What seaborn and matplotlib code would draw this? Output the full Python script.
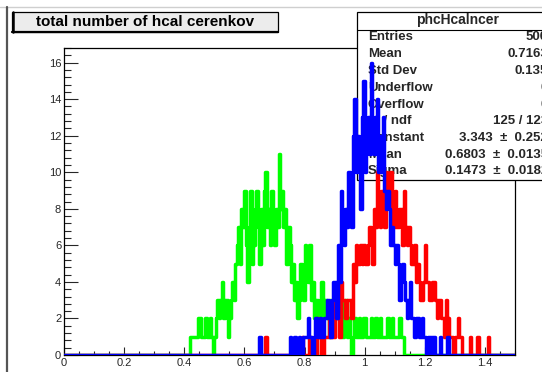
import numpy as np
import pandas as pd
import matplotlib
matplotlib.use("Agg")
import matplotlib.pyplot as plt
import seaborn as sns
from matplotlib.patches import Rectangle
from matplotlib.lines import Line2D
from matplotlib.ticker import MultipleLocator, FuncFormatter

# ---------------- data (bin width 0.005 over 0 .. 1.5) ----------------
bin_width = 0.005
x_min, x_max = 0.0, 1.5

green_start = 0.42
green_counts = [1, 1, 1, 1, 1, 2, 2, 1, 1, 1, 2, 1, 1, 2, 1, 0, 1, 2, 3, 2,
                3, 4, 2, 3, 3, 1, 2, 3, 4, 3, 5, 6, 7, 5, 8, 7, 9, 6, 4, 7,
                9, 5, 6, 8, 9, 7, 5, 8, 6, 9, 10, 7, 8, 6, 9, 7, 6, 8, 7, 11,
                8, 9, 7, 8, 5, 7, 6, 4, 5, 3, 4, 2, 3, 5, 4, 3, 6, 5, 4, 6,
                3, 4, 2, 3, 3, 2, 3, 4, 2, 3, 3, 2, 1, 3, 3, 2, 3, 3, 2, 3,
                3, 1, 2, 3, 1, 2, 1, 0, 1, 2, 1, 1, 2, 1, 1, 2, 2, 1, 1, 1,
                2, 1, 1, 2, 1, 1, 2, 1, 1, 1, 1, 2, 1, 1, 2, 1, 1, 1, 1, 2,
                1, 1]

red_start = 0.67
red_counts = [1, 0, 0, 0, 0, 0, 0, 0, 0, 0, 0, 0, 0, 0, 0, 0, 0, 0, 0, 0,
              0, 0, 0, 0, 1, 0, 0, 0, 0, 1, 0, 0, 1, 0, 2, 1, 1, 0, 0, 1,
              1, 1, 2, 1, 1, 1, 3, 2, 2, 1, 4, 3, 3, 2, 3, 3, 3, 2, 5, 4,
              6, 5, 5, 6, 5, 6, 5, 5, 6, 7, 6, 5, 8, 7, 10, 8, 7, 9, 9, 7,
              10, 9, 8, 10, 8, 7, 9, 7, 7, 8, 8, 6, 9, 7, 6, 7, 6, 5, 5, 6,
              4, 5, 4, 3, 3, 4, 6, 4, 4, 3, 3, 4, 4, 3, 2, 3, 3, 2, 2, 1,
              3, 2, 1, 1, 1, 0, 1, 1, 2, 1, 1, 0, 0, 0, 0, 0, 1, 0, 0, 0,
              0, 1, 0, 0, 0, 0, 0, 0, 1, 0]

blue_start = 0.65
blue_counts = [1, 0, 0, 0, 0, 0, 0, 0, 0, 0, 0, 0, 0, 0, 0, 0, 0, 0, 0, 0,
               1, 0, 0, 1, 0, 0, 1, 0, 0, 1, 1, 1, 2, 1, 1, 0, 1, 2, 1, 1,
               2, 1, 1, 2, 2, 3, 2, 1, 3, 4, 4, 2, 6, 4, 9, 7, 6, 8, 7, 10,
               9, 7, 12, 14, 10, 12, 11, 8, 13, 15, 10, 12, 13, 11, 16, 12, 11, 13, 14, 10,
               10, 12, 13, 9, 8, 9, 8, 6, 7, 6, 5, 6, 5, 3, 4, 5, 4, 3, 2, 3,
               4, 2, 2, 1, 2, 2, 1, 1, 2, 1, 1, 0, 1, 1, 0, 1, 1, 0, 0, 0,
               1, 0, 0, 0, 0, 1]

title_text = "total number of hcal cerenkov"
stats_name = "phcHcalncer"
stats_labels = ["Entries", "Mean", "Std Dev", "Underflow", "Overflow",
                "χ² / ndf", "Constant", "Mean", "Sigma"]
stats_values = ["500", "0.7163", "0.135", "0", "0",
                "125 / 123", "3.343 ± 0.252", "0.6803 ± 0.0135", "0.1473 ± 0.0182"]

x_major = [0, 0.2, 0.4, 0.6, 0.8, 1.0, 1.2, 1.4]
y_major = [0, 2, 4, 6, 8, 10, 12, 14, 16]

# ---------------- helpers ----------------
n_bins = int(round((x_max - x_min) / bin_width))
edges = np.linspace(x_min, x_max, n_bins + 1)
centers = 0.5 * (edges[:-1] + edges[1:])


def full_hist(start, counts):
    arr = np.zeros(n_bins)
    i0 = int(round((start - x_min) / bin_width))
    arr[i0:i0 + len(counts)] = counts
    return arr


frames = []
for name, start, counts in [("green", green_start, green_counts),
                            ("red", red_start, red_counts),
                            ("blue", blue_start, blue_counts)]:
    frames.append(pd.DataFrame({"x": centers, "w": full_hist(start, counts), "set": name}))
df = pd.concat(frames, ignore_index=True)

# ---------------- style ----------------
sns.set_style("white")
plt.rcParams["font.family"] = ["Liberation Sans", "DejaVu Sans"]

W, H = 542, 372
fig = plt.figure(figsize=(W / 100, H / 100), dpi=100)
fig.patch.set_facecolor("white")


def fx(px):
    return px / W


def fy(py):
    return 1 - py / H


ax = fig.add_axes([fx(64), 17 / H, (515 - 64) / W, (355 - 48) / H])
ax.set_facecolor("white")

colors = {"green": "#00ff00", "red": "#ff0000", "blue": "#0000ff"}
for name in ["green", "red", "blue"]:
    sub = df[df["set"] == name]
    sns.histplot(data=sub, x="x", weights="w", binwidth=bin_width,
                 binrange=(x_min, x_max), element="step",
                 fill=False, color=colors[name], linewidth=2.5, ax=ax, zorder=3)

ax.set_xlim(x_min, x_max)
ax.set_ylim(0, 16.8)
ax.set_xlabel("")
ax.set_ylabel("")
ax.set_xticks(x_major)
ax.set_yticks(y_major)
ax.xaxis.set_minor_locator(MultipleLocator(0.05))
ax.yaxis.set_minor_locator(MultipleLocator(0.4))
ax.xaxis.set_major_formatter(FuncFormatter(lambda v, p: "%g" % v))
ax.yaxis.set_major_formatter(FuncFormatter(lambda v, p: "%g" % v))
ax.tick_params(axis="x", which="major", direction="in", length=6, width=0.8,
               labelsize=8, pad=2, top=False, bottom=True)
ax.tick_params(axis="x", which="minor", direction="in", length=3, width=0.8,
               top=False, bottom=True)
ax.tick_params(axis="y", which="major", direction="in", length=10, width=0.8,
               labelsize=8, pad=2, right=False, left=True)
ax.tick_params(axis="y", which="minor", direction="in", length=5, width=0.8,
               right=False, left=True)
for s in ax.spines.values():
    s.set_color("black")
    s.set_linewidth(0.9)
    s.set_zorder(1)

# ---------------- canvas border ----------------
fig.add_artist(Line2D([fx(0), fx(542)], [fy(7), fy(7)], color="#cfcfcf", lw=1.0))
fig.add_artist(Line2D([fx(7), fx(7)], [fy(7), fy(372)], color="#555555", lw=1.6))

# ---------------- title box ----------------
fig.add_artist(Rectangle((fx(12), fy(32)), fx(278) - fx(12), fy(12) - fy(32),
                         transform=fig.transFigure, facecolor="#ececec",
                         edgecolor="black", lw=0.9))
fig.add_artist(Line2D([fx(12.5), fx(12.5)], [fy(12), fy(32)], color="black", lw=1.8))
fig.add_artist(Line2D([fx(12), fx(278)], [fy(32), fy(32)], color="black", lw=1.6))
fig.text(fx(145), fy(22), title_text, ha="center", va="center",
         fontsize=11, fontweight="bold", color="black")

# ---------------- stats box (under the histograms) ----------------
ax.add_patch(Rectangle((fx(357), fy(180)), fx(600) - fx(357), fy(12) - fy(180),
                       transform=fig.transFigure, facecolor="white",
                       edgecolor="black", lw=0.9, clip_on=False, zorder=2))
ax.add_line(Line2D([fx(357), fx(600)], [fy(30), fy(30)], transform=fig.transFigure,
                   color="black", lw=0.8, clip_on=False, zorder=2.1))
ax.text(fx(458), fy(20), stats_name, transform=fig.transFigure, ha="center",
        va="center", fontsize=10, fontweight="bold", zorder=2.2, clip_on=False)
row_y = [37, 54, 71, 88, 105, 121, 138, 155, 171.5]
for lab, val, py in zip(stats_labels, stats_values, row_y):
    ax.text(fx(368), fy(py), lab, transform=fig.transFigure, ha="left",
            va="center", fontsize=9.5, fontweight="bold", zorder=2.2, clip_on=False)
    ax.text(fx(548), fy(py), val.replace(" ± ", "  ±  "), transform=fig.transFigure,
            ha="right", va="center", fontsize=9.5, fontweight="bold", zorder=2.2,
            clip_on=False)

fig.savefig("out.png", dpi=100)
